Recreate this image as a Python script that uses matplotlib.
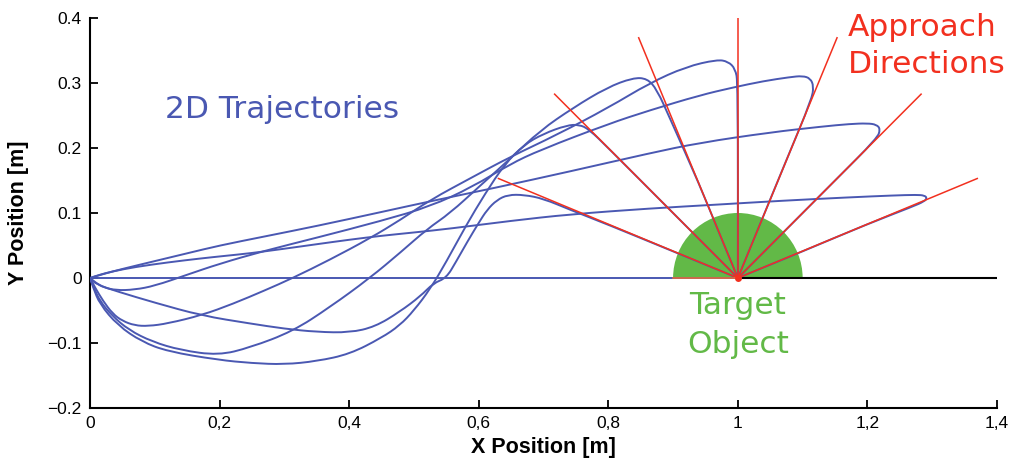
import matplotlib
matplotlib.use("Agg")
import matplotlib.pyplot as plt
from matplotlib.patches import Wedge, PathPatch
from matplotlib.path import Path
import numpy as np

# ---- data -------------------------------------------------------------
approach_angles_deg = [22.5, 45.0, 67.5, 90.0, 112.5, 135.0, 157.5]
approach_length = 0.4
target_center = (1.0, 0.0)
target_radius = 0.1

traj_0_x = [0.0, 1.0]
traj_0_y = [0.0, 0.0]

traj_22_x = [0.0, 0.015, 0.034, 0.07, 0.12, 0.17, 0.208, 0.247, 0.30, 0.35, 0.401, 0.45, 0.50,
             0.556, 0.65, 0.741, 0.864, 0.97, 1.07, 1.17, 1.24, 1.276, 1.288, 1.292, 1.288,
             1.27, 1.2, 1.1, 1.0]
traj_22_y = [0.0, 0.005, 0.010, 0.017, 0.024, 0.030, 0.034, 0.038, 0.045, 0.052, 0.059, 0.065, 0.070,
             0.076, 0.088, 0.098, 0.107, 0.113, 0.119, 0.124, 0.127, 0.128, 0.127, 0.123, 0.118,
             0.110, 0.083, 0.041, 0.0]

traj_45_x = [0.0, 0.02, 0.05, 0.10, 0.15, 0.20, 0.27, 0.35, 0.452, 0.525, 0.622, 0.741, 0.864,
             0.941, 1.05, 1.13, 1.173, 1.20, 1.214, 1.22, 1.215, 1.15, 1.075, 1.0]
traj_45_y = [0.0, 0.006, 0.014, 0.026, 0.038, 0.050, 0.064, 0.080, 0.102, 0.118, 0.138, 0.164, 0.192,
             0.208, 0.224, 0.233, 0.237, 0.238, 0.236, 0.229, 0.215, 0.150, 0.075, 0.0]

traj_67_x = [0.0, 0.01, 0.02, 0.04, 0.069, 0.10, 0.147, 0.20, 0.27, 0.35, 0.45, 0.525, 0.59, 0.648,
             0.695, 0.80, 0.864, 0.941, 0.992, 1.04, 1.08, 1.10, 1.112, 1.117, 1.114, 1.076, 1.038, 1.0]
traj_67_y = [0.0, -0.008, -0.014, -0.019, -0.018, -0.012, 0.004, 0.022, 0.042, 0.062, 0.088, 0.110,
             0.140, 0.175, 0.197, 0.237, 0.258, 0.281, 0.293, 0.303, 0.309, 0.311, 0.307, 0.295,
             0.275, 0.184, 0.092, 0.0]

traj_90_x = [0.0, 0.008, 0.02, 0.035, 0.05, 0.069, 0.09, 0.12, 0.173, 0.22, 0.27, 0.313, 0.37, 0.432,
             0.48, 0.525, 0.59, 0.648, 0.72, 0.80, 0.864, 0.92, 0.968, 0.985, 0.996, 1.0, 1.0]
traj_90_y = [0.0, -0.015, -0.035, -0.055, -0.066, -0.073, -0.074, -0.070, -0.057, -0.040, -0.019,
             0.0, 0.028, 0.061, 0.090, 0.120, 0.155, 0.186, 0.220, 0.262, 0.300, 0.325, 0.336,
             0.333, 0.322, 0.300, 0.0]

traj_112_x = [0.0, 0.006, 0.015, 0.034, 0.06, 0.096, 0.14, 0.198, 0.247, 0.313, 0.37, 0.432, 0.48,
              0.52, 0.556, 0.60, 0.648, 0.695, 0.746, 0.798, 0.838, 0.86, 0.875, 0.895, 0.941,
              0.97, 1.0]
traj_112_y = [0.0, -0.015, -0.035, -0.058, -0.080, -0.098, -0.111, -0.119, -0.107, -0.082, -0.045,
              0.0, 0.040, 0.075, 0.100, 0.140, 0.183, 0.227, 0.262, 0.293, 0.308, 0.307, 0.290,
              0.246, 0.143, 0.072, 0.0]

traj_135_x = [0.0, 0.005, 0.015, 0.043, 0.08, 0.12, 0.198, 0.25, 0.30, 0.35, 0.401, 0.45, 0.478,
              0.50, 0.525, 0.55, 0.58, 0.61, 0.64, 0.67, 0.70, 0.736, 0.755, 0.77, 0.8, 0.9, 1.0]
traj_135_y = [0.0, -0.015, -0.040, -0.073, -0.098, -0.113, -0.126, -0.131, -0.133, -0.128, -0.117,
              -0.092, -0.073, -0.050, -0.017, 0.025, 0.080, 0.130, 0.175, 0.205, 0.222, 0.235,
              0.236, 0.229, 0.200, 0.100, 0.0]

traj_157_x = [0.0, 0.01, 0.043, 0.10, 0.173, 0.247, 0.30, 0.35, 0.401, 0.44, 0.478, 0.51, 0.53, 0.55,
              0.565, 0.582, 0.60, 0.613, 0.628, 0.645, 0.67, 0.70, 0.741, 0.8, 0.9, 1.0]
traj_157_y = [0.0, -0.010, -0.021, -0.038, -0.058, -0.070, -0.078, -0.083, -0.084, -0.075, -0.052,
              -0.028, -0.008, 0.0, 0.025, 0.055, 0.085, 0.105, 0.120, 0.128, 0.128, 0.122, 0.105,
              0.082, 0.041, 0.0]

trajectories = [
    (traj_0_x, traj_0_y), (traj_22_x, traj_22_y), (traj_45_x, traj_45_y),
    (traj_67_x, traj_67_y), (traj_90_x, traj_90_y), (traj_112_x, traj_112_y),
    (traj_135_x, traj_135_y), (traj_157_x, traj_157_y),
]

x_ticks = [0.0, 0.2, 0.4, 0.6, 0.8, 1.0, 1.2, 1.4]
x_tick_labels = ["0", "0,2", "0,4", "0,6", "0,8", "1", "1,2", "1,4"]
y_ticks = [-0.2, -0.1, 0.0, 0.1, 0.2, 0.3, 0.4]
y_tick_labels = ["\u22120.2", "\u22120.1", "0", "0.1", "0.2", "0.3", "0.4"]

# ---- styling ----------------------------------------------------------
BLUE = "#4a58b2"
RED = "#f2301f"
GREEN = "#62b947"
plt.rcParams["font.family"] = ["Liberation Sans", "DejaVu Sans"]


def smooth_path(xs, ys):
    """Quadratic-Bezier path through the sampled points (rounded joins)."""
    pts = np.column_stack([xs, ys])
    if len(pts) < 3:
        return Path(pts)
    verts = [pts[0], (pts[0] + pts[1]) / 2]
    codes = [Path.MOVETO, Path.LINETO]
    for i in range(1, len(pts) - 1):
        verts += [pts[i], (pts[i] + pts[i + 1]) / 2]
        codes += [Path.CURVE3, Path.CURVE3]
    verts.append(pts[-1])
    codes.append(Path.LINETO)
    return Path(verts, codes)


fig = plt.figure(figsize=(10.15, 4.63), dpi=100)
ax = fig.add_axes([90 / 1015, 55 / 463, 907 / 1015, 390 / 463])
ax.set_xlim(0, 1.4)
ax.set_ylim(-0.2, 0.4)

# target object
ax.add_patch(Wedge(target_center, target_radius, 0, 180, facecolor=GREEN,
                   edgecolor="none", zorder=1))

# zero line to the right of the target
ax.plot([target_center[0], 1.4], [0, 0], color="black", lw=1.5, zorder=2,
        solid_capstyle="butt")

# trajectories
for tx, ty in trajectories:
    ax.add_patch(PathPatch(smooth_path(tx, ty), facecolor="none", edgecolor=BLUE,
                           lw=1.4, zorder=3, joinstyle="round"))

# approach directions
for ang in approach_angles_deg:
    a = np.deg2rad(ang)
    ax.plot([target_center[0], target_center[0] + approach_length * np.cos(a)],
            [target_center[1], target_center[1] + approach_length * np.sin(a)],
            color=RED, lw=1.1, zorder=4)
ax.plot([target_center[0] - target_radius, target_center[0]], [0, 0],
        color="#f07030", lw=1.1, zorder=4)
ax.plot([target_center[0]], [target_center[1]], "o", color=RED, ms=5, zorder=5,
        markeredgewidth=0)

# annotations
ann_size = 22.5
ax.text(0.116, 0.246, "2D Trajectories", color=BLUE, fontsize=ann_size,
        family="DejaVu Sans", ha="left", va="baseline")
ax.text(1.17, 0.3725, "Approach", color=RED, fontsize=ann_size,
        family="DejaVu Sans", ha="left", va="baseline")
ax.text(1.17, 0.316, "Directions", color=RED, fontsize=ann_size,
        family="DejaVu Sans", ha="left", va="baseline")
ax.text(1.0, -0.055, "Target", color=GREEN, fontsize=ann_size,
        family="DejaVu Sans", ha="center", va="baseline")
ax.text(1.0, -0.116, "Object", color=GREEN, fontsize=ann_size,
        family="DejaVu Sans", ha="center", va="baseline")

# axes styling
for side in ("top", "right"):
    ax.spines[side].set_visible(False)
for side in ("left", "bottom"):
    ax.spines[side].set_linewidth(1.5)
ax.set_xticks(x_ticks)
ax.set_xticklabels(x_tick_labels)
ax.set_yticks(y_ticks)
ax.set_yticklabels(y_tick_labels)
ax.tick_params(direction="in", length=6, width=1.3, labelsize=12.5, pad=6)
ax.set_xlabel("X Position [m]", fontsize=15.5, fontweight="bold", labelpad=4)
ax.set_ylabel("Y Position [m]", fontsize=15.5, fontweight="bold", labelpad=13)

fig.savefig("out.png", dpi=100)
